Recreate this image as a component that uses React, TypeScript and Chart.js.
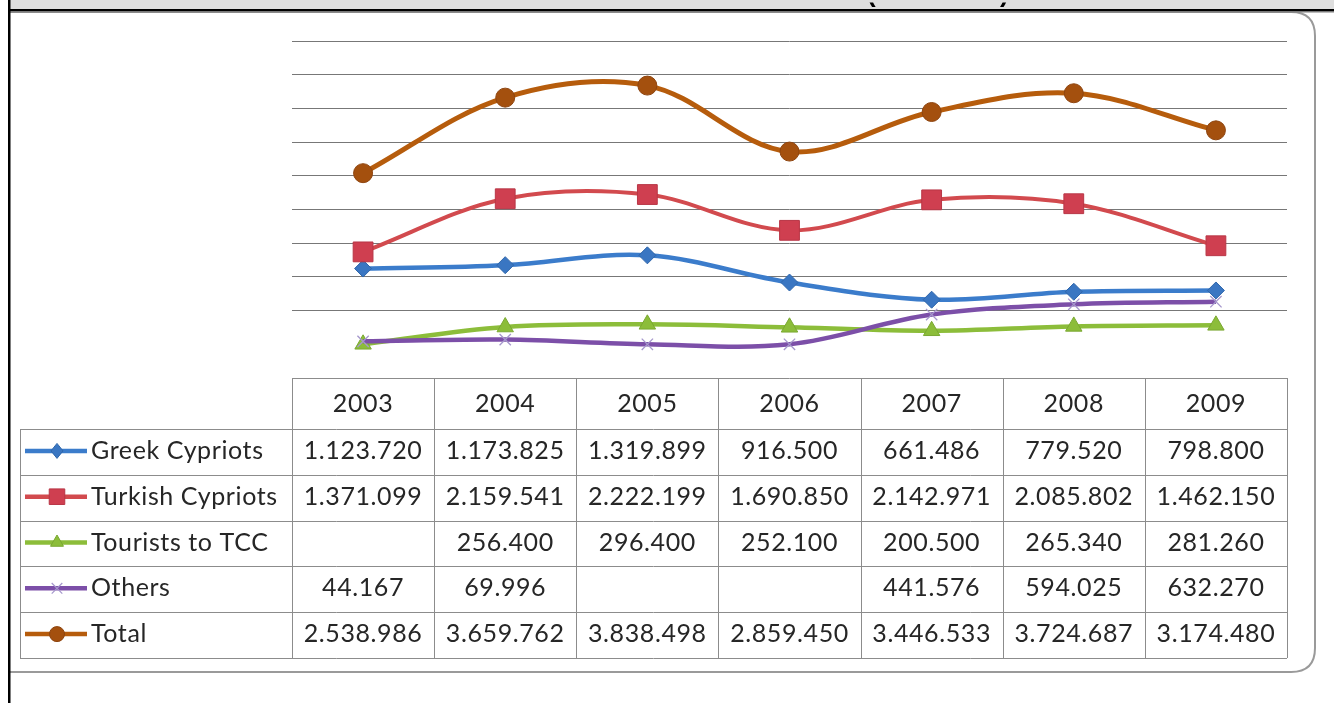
import React, { useEffect, useRef } from 'react';
import { Chart, registerables } from 'chart.js';

Chart.register(...registerables);

// ---------- data ----------
const years = ['2003', '2004', '2005', '2006', '2007', '2008', '2009'];
const greekCypriots: (number | null)[] = [1123720, 1173825, 1319899, 916500, 661486, 779520, 798800];
const turkishCypriots: (number | null)[] = [1371099, 2159541, 2222199, 1690850, 2142971, 2085802, 1462150];
const touristsToTCC: (number | null)[] = [null, 256400, 296400, 252100, 200500, 265340, 281260];
const others: (number | null)[] = [44167, 69996, null, null, 441576, 594025, 632270];
const total: (number | null)[] = [2538986, 3659762, 3838498, 2859450, 3446533, 3724687, 3174480];
const seriesNames = ['Greek Cypriots', 'Turkish Cypriots', 'Tourists to TCC', 'Others', 'Total'];
const seriesValues = [greekCypriots, turkishCypriots, touristsToTCC, others, total];
const yMin = -500000;
const yMax = 4500000;
const yStep = 500000;
const titleText = '(2003-2009)';

// ---------- styles ----------
const lineColors = ['#3b7ccb', '#d24a4e', '#8cbd3a', '#7c4fa8', '#b65c0c'];
const markerFill = ['#3a76c2', '#cf3f50', '#8cbd3a', '#b3a6d6', '#a4500e'];
const markerBorder = ['#2f66aa', '#b83646', '#7aa832', '#a597cc', '#8e4510'];
const markerStyles = ['rectRot', 'rect', 'triangle', 'crossRot', 'circle'];
const markerRadius = [8.5, 14, 9.5, 8, 9.5];
const lineWidths = [4.5, 4, 4.5, 4.5, 5];

const fmt = (v: number | null) =>
  v == null ? '' : String(v).replace(/\B(?=(\d{3})+(?!\d))/g, '.');

function drawMarker(ctx: CanvasRenderingContext2D, style: string, x: number, y: number, r: number, fill: string, stroke: string) {
  ctx.save();
  ctx.fillStyle = fill;
  ctx.strokeStyle = stroke;
  ctx.lineWidth = 1;
  ctx.beginPath();
  if (style === 'rectRot') {
    ctx.moveTo(x, y - r);
    ctx.lineTo(x + r * 0.8, y);
    ctx.lineTo(x, y + r);
    ctx.lineTo(x - r * 0.8, y);
    ctx.closePath();
    ctx.fill();
    ctx.stroke();
  } else if (style === 'rect') {
    const s = r * Math.SQRT1_2;
    ctx.rect(x - s, y - s, 2 * s, 2 * s);
    ctx.fill();
    ctx.stroke();
  } else if (style === 'triangle') {
    ctx.moveTo(x, y - r);
    ctx.lineTo(x + r * 0.866, y + r * 0.5);
    ctx.lineTo(x - r * 0.866, y + r * 0.5);
    ctx.closePath();
    ctx.fill();
    ctx.stroke();
  } else if (style === 'crossRot') {
    const s = r * Math.SQRT1_2;
    ctx.lineWidth = 1.2;
    ctx.moveTo(x - s, y - s);
    ctx.lineTo(x + s, y + s);
    ctx.moveTo(x - s, y + s);
    ctx.lineTo(x + s, y - s);
    ctx.stroke();
  } else {
    ctx.arc(x, y, r, 0, Math.PI * 2);
    ctx.fill();
    ctx.stroke();
  }
  ctx.restore();
}

const framePlugin = {
  id: 'frame',
  beforeDraw(chart: any) {
    const ctx: CanvasRenderingContext2D = chart.ctx;
    const W = chart.width;
    const H = chart.height;
    ctx.save();
    // top gray title band
    ctx.fillStyle = '#dedede';
    ctx.fillRect(10, 0, W - 10, 9);
    // clipped title (only descenders visible)
    ctx.save();
    ctx.beginPath();
    ctx.rect(10, 2.5, W - 10, 6.5);
    ctx.clip();
    ctx.fillStyle = '#000';
    ctx.font = 'bold 26px "Liberation Sans"';
    ctx.textAlign = 'left';
    ctx.textBaseline = 'alphabetic';
    ctx.fillText(titleText, 867, 2.2);
    ctx.restore();
    // black rule under the band
    ctx.fillStyle = '#000';
    ctx.fillRect(10, 9, W - 10, 2);
    // rounded chart box
    const bx = 10, by = 12, br = 1315, bb = 672, rad = 24;
    ctx.strokeStyle = '#9a9a9a';
    ctx.lineWidth = 2;
    ctx.beginPath();
    ctx.moveTo(bx, by);
    ctx.lineTo(br - rad, by);
    ctx.quadraticCurveTo(br, by, br, by + rad);
    ctx.lineTo(br, bb - rad);
    ctx.quadraticCurveTo(br, bb, br - rad, bb);
    ctx.lineTo(bx, bb);
    ctx.stroke();
    ctx.fillStyle = '#7a7a7a';
    ctx.fillRect(10, 11, W - 10, 1.5);
    // left black border
    ctx.fillStyle = '#000';
    ctx.fillRect(8, 0, 2.5, H);
    ctx.restore();
  },
};

const tablePlugin = {
  id: 'dataTable',
  afterDraw(chart: any) {
    const ctx: CanvasRenderingContext2D = chart.ctx;
    const { chartArea } = chart;
    const xs = chart.scales.x;
    const L = chartArea.left;
    const R = chartArea.right;
    const T = chartArea.bottom;
    const left0 = 20;
    const headerH = 51;
    const rowH = 45.8;
    const n = years.length;
    const step = xs.getPixelForValue(1) - xs.getPixelForValue(0);
    const bottom = T + headerH + rowH * seriesNames.length;
    ctx.save();
    ctx.strokeStyle = '#8c8c8c';
    ctx.lineWidth = 1;
    const hl = (y: number, x0: number, x1: number) => {
      ctx.beginPath();
      ctx.moveTo(x0, Math.round(y) + 0.5);
      ctx.lineTo(x1, Math.round(y) + 0.5);
      ctx.stroke();
    };
    const vl = (x: number, y0: number, y1: number) => {
      ctx.beginPath();
      ctx.moveTo(Math.round(x) + 0.5, y0);
      ctx.lineTo(Math.round(x) + 0.5, y1);
      ctx.stroke();
    };
    hl(T, L, R);
    for (let k = 0; k <= seriesNames.length; k++) hl(T + headerH + k * rowH, left0, R);
    vl(left0, T + headerH, bottom);
    for (let i = 0; i < n; i++) vl(xs.getPixelForValue(i) - step / 2, T, bottom);
    vl(R, T, bottom);

    ctx.fillStyle = '#262626';
    ctx.font = '25px Lato';
    (ctx as any).letterSpacing = '0.6px';
    ctx.textAlign = 'center';
    ctx.textBaseline = 'middle';
    for (let i = 0; i < n; i++) {
      ctx.fillText(years[i], xs.getPixelForValue(i), T + headerH / 2);
    }
    seriesNames.forEach((name, s) => {
      const yc = T + headerH + s * rowH + rowH / 2 - 1;
      // legend key
      ctx.save();
      ctx.strokeStyle = lineColors[s];
      ctx.lineWidth = 4.5;
      ctx.beginPath();
      ctx.moveTo(25, yc);
      ctx.lineTo(87, yc);
      ctx.stroke();
      ctx.restore();
      drawMarker(ctx, markerStyles[s], 57, yc, s === 1 ? 11 : 7.5, markerFill[s], markerBorder[s]);
      ctx.fillStyle = '#262626';
      ctx.textAlign = 'left';
      ctx.fillText(name, 91, yc);
      ctx.textAlign = 'center';
      const vals = seriesValues[s];
      for (let i = 0; i < n; i++) {
        ctx.fillText(fmt(vals[i]), xs.getPixelForValue(i), yc);
      }
    });
    ctx.restore();
  },
};

export default function App() {
  const ref = useRef<HTMLCanvasElement | null>(null);
  useEffect(() => {
    if (!ref.current) return;
    const datasets = seriesNames.map((name, s) => ({
      label: name,
      // blank cells are plotted as zero, as in the original
      data: seriesValues[s].map((v) => (v == null ? 0 : v)),
      borderColor: lineColors[s],
      backgroundColor: markerFill[s],
      borderWidth: lineWidths[s],
      pointStyle: markerStyles[s] as any,
      pointRadius: markerRadius[s],
      pointBackgroundColor: markerFill[s],
      pointBorderColor: markerBorder[s],
      pointBorderWidth: s === 3 ? 1.3 : 1,
      tension: 0.35,
      fill: false,
      order: seriesNames.length - s,
      clip: false as any,
    }));
    const chart = new Chart(ref.current, {
      type: 'line',
      data: { labels: years, datasets },
      options: {
        animation: false,
        responsive: false,
        devicePixelRatio: 1,
        layout: { padding: { left: 292, right: 47, top: 41, bottom: 325 } },
        plugins: { legend: { display: false }, tooltip: { enabled: false }, title: { display: false } },
        scales: {
          x: { type: 'category', offset: true, display: false },
          y: {
            min: yMin,
            max: yMax,
            ticks: { display: false, stepSize: yStep },
            border: { display: false },
            grid: {
              drawTicks: false,
              tickLength: 0,
              lineWidth: 1,
              color: (c: any) => (c.tick && (c.tick.value === 0 || c.tick.value === yMin) ? 'rgba(0,0,0,0)' : '#777777'),
            },
          },
        },
      },
      plugins: [framePlugin, tablePlugin],
    });
    return () => chart.destroy();
  }, []);
  return (
    <div style={{ position: 'fixed', left: 0, top: 0, width: 1334, height: 703, background: '#fff' }}>
      <canvas ref={ref} width={1334} height={703} style={{ display: 'block', width: 1334, height: 703 }} />
    </div>
  );
}
